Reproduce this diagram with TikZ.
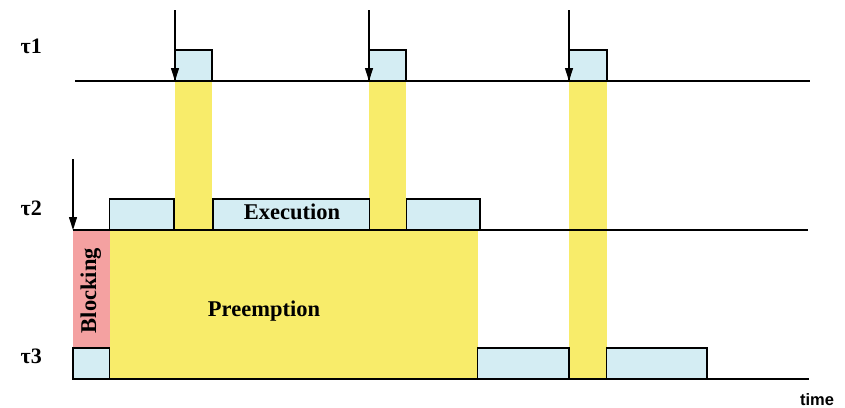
\documentclass[tikz,border=0pt]{standalone}
\usepackage{fontspec}
\setmainfont{Liberation Serif}
\setsansfont{Liberation Sans}
\usetikzlibrary{arrows.meta}
\definecolor{runblue}{HTML}{D4EDF3}
\definecolor{preemptyellow}{HTML}{F8EC6A}
\definecolor{blockpink}{HTML}{F4A1A1}
\tikzset{
  runbox/.style={fill=runblue, draw=black, line width=1.1pt},
  preempt/.style={fill=preemptyellow},
  blockfill/.style={fill=blockpink},
  axisline/.style={draw=black, line width=1.1pt},
  release/.style={draw=black, line width=1.1pt, -{Triangle[length=13pt,width=8pt]}},
  tasklabel/.style={font=\bfseries\fontsize{22}{26}\selectfont, anchor=base west, inner sep=0pt},
  boxtext/.style={font=\bfseries\fontsize{22.5}{26}\selectfont, inner sep=0pt},
}
\begin{document}
\begin{tikzpicture}[x=1pt, y=-1pt]
  \useasboundingbox (0,0) rectangle (845,407);

  % preemption of tau2/tau3 by tau1
  \path[preempt] (175,81) rectangle (212,230);
  \path[preempt] (369,81) rectangle (406,230);
  \path[preempt] (569,81) rectangle (607,379);
  \path[preempt] (109.5,230) rectangle (477.5,379);

  % blocking of tau2 by tau3
  \path[blockfill] (73,230) rectangle (109.5,348);

  % tau1 executions
  \draw[runbox] (175,50) rectangle (212,81);
  \draw[runbox] (369,50) rectangle (406,81);
  \draw[runbox] (569,50) rectangle (607,81);

  % tau2 executions
  \draw[runbox] (109.5,199) rectangle (174,230);
  \draw[runbox] (213,199) rectangle (369.5,230);
  \draw[runbox] (406.5,199) rectangle (480,230);

  % tau3 executions
  \draw[runbox] (73,348) rectangle (109.5,379);
  \draw[runbox] (477.5,348) rectangle (569,379);
  \draw[runbox] (606.5,348) rectangle (707,379);

  % time axes
  \coordinate (a1s) at (75,81);  \coordinate (a1e) at (810,81);
  \coordinate (a2s) at (73,230); \coordinate (a2e) at (808,230);
  \coordinate (a3s) at (73,379); \coordinate (a3e) at (809,379);
  \draw[axisline] (a1s) -- (a1e);
  \draw[axisline] (a2s) -- (a2e);
  \draw[axisline] (a3s) -- (a3e);

  % job releases
  \coordinate (r1a) at (175,10);  \coordinate (r1ae) at (175,81);
  \coordinate (r1b) at (369,10);  \coordinate (r1be) at (369,81);
  \coordinate (r1c) at (569,10);  \coordinate (r1ce) at (569,81);
  \coordinate (r2a) at (73,159);  \coordinate (r2ae) at (73,230);
  \draw[release] (r1a) -- (r1ae);
  \draw[release] (r1b) -- (r1be);
  \draw[release] (r1c) -- (r1ce);
  \draw[release] (r2a) -- (r2ae);

  % labels
  \node[tasklabel] (t1) at (20.5,53) {τ1};
  \node[tasklabel] (t2) at (20.5,215) {τ2};
  \node[tasklabel] (t3) at (20.5,363.5) {τ3};
  \node[boxtext, anchor=base] (exec) at (292,219.5) {Execution};
  \node[boxtext, anchor=base] (pre) at (264,316) {Preemption};
  \node[boxtext, anchor=base, rotate=90] (blk) at (96,290.5) {Blocking};
  \node[font=\sffamily\bfseries\fontsize{16.5}{18}\selectfont, anchor=base, inner sep=0pt] (time) at (817,405) {time};
\end{tikzpicture}
\end{document}
